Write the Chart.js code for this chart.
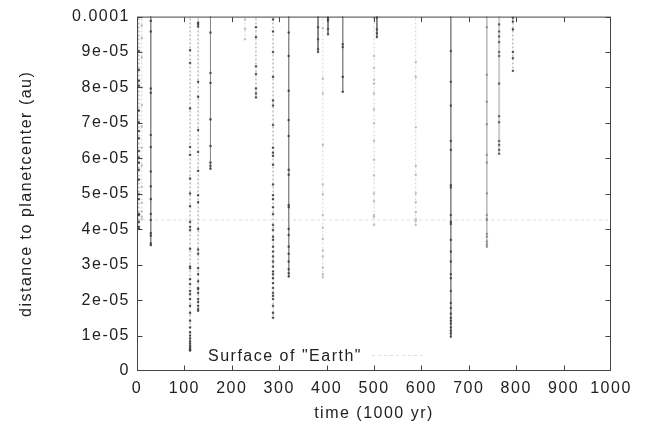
<!DOCTYPE html>
<html>
<head>
<meta charset="utf-8">
<script src="https://cdn.jsdelivr.net/npm/chart.js@4/dist/chart.umd.min.js"></script>
<style>
  html, body { margin: 0; padding: 0; background: #fff; }
</style>
</head>
<body>
<canvas id="encChart" width="648" height="434"></canvas>
<script>
// close passes: time of each pass (1000 yr) and the sampled distances (1e-6 au)
const passTimes = [4, 10, 29, 112, 129, 155, 228, 251, 287, 320, 382, 392, 403, 434, 500, 506, 588, 662, 738, 764, 793];

const passDistances = [
  [104, 90.3, 85, 81.9, 80.5, 73.5, 70.2, 67.7, 65.7, 62.1, 60.2, 58.8, 56.8, 54, 49.9, 48.5, 44.3, 44.0, 42.1, 40.7, 40.1],
  [104, 97.5, 94, 88.5, 80, 75, 69, 63, 58, 52, 47.5, 45, 43.5, 42.8],
  [104, 98.8, 95.8, 79.7, 78.5, 66.6, 63.2, 56.3, 52.1, 48.5, 44.3, 42.6, 38.9, 38.2, 36.0, 35.5],
  [104, 90.5, 86.9, 74.1, 63.2, 61, 54.3, 50.1, 46.5, 42.1, 40.7, 39.8, 34.5, 29.5, 29, 25.9, 24.5, 22.6, 21.7, 20.3, 18.4, 16.4, 14.2, 12.3, 10.9, 10, 9.2, 8.4, 7.8, 7.2, 6.7, 6.2, 5.9, 5.8],
  [104, 98.3, 97.8, 97.2, 81.6, 77.4, 68, 61.8, 56.5, 49.6, 47.6, 40.1, 34.3, 33.1, 29, 27.3, 25.3, 23.4, 23.1, 22, 20.3, 19.5, 18.4, 17.5, 17],
  [104, 95.5, 84.1, 81.3, 71, 63.5, 58.8, 57.9, 57.1],
  [104, 99.2, 96.5, 93.6],
  [104, 97, 94.2, 86, 83.8, 79.7, 78.3, 77.2],
  [104, 99.2, 95.8, 90, 83, 76.3, 74.9, 69.4, 63, 61.6, 60.7, 58.2, 52.6, 49.6, 48.5, 46.2, 44.3, 41.2, 39.8, 37.9, 37, 35.1, 33.7, 32.3, 30.9, 29.5, 28.1, 27.3, 26.2, 24.8, 23.4, 22, 21.2, 20.3, 18.4, 16.4, 15],
  [104, 95.5, 88.9, 79.1, 70.8, 66.3, 56.8, 55.4, 46.8, 46.2, 40.1, 38.4, 35.1, 33.1, 30.9, 28.7, 27.6, 26.7],
  [104, 97, 93.6, 90.8, 90],
  [104, 96.7, 82.5, 78.3, 63.8, 52.6, 49.9, 44, 40.4, 37.3, 34, 32.3, 29.2, 27.3, 26.5],
  [104, 99.4, 98.9, 96.5, 95],
  [104, 92.2, 91.4, 83, 78.8],
  [104, 99.7, 88.9, 85.5, 82.2, 81.1, 78.3, 73.8, 69.9, 64.9, 59.6, 55.2, 50.1, 47.9, 44, 43.5, 41.2],
  [104, 99.7, 96.4, 95.3, 94.2],
  [104, 87.2, 83, 68.8, 57.9, 55.4, 50.1, 47.6, 44.8, 42.9, 42.3, 41.2],
  [104, 90.3, 81.6, 74.9, 64.9, 62.4, 52.4, 51.8, 44, 42.1, 41.5, 37, 33.7, 30.9, 27.3, 26.2, 22.6, 19.2, 17.8, 16.2, 15, 14.2, 13.4, 12.3, 11.4, 10.6, 9.7],
  [104, 97, 83.6, 76, 69.6, 61, 58.8, 50.1, 44, 42.9, 42.6, 38.7, 37.9, 36.5, 35.7, 35.1],
  [104, 97.8, 95.8, 94.4, 92.8, 90, 88.9, 81.1, 71.9, 70.2, 64.9, 63.8, 62.4, 61.3],
  [104, 99.7, 98.6, 96.4, 90, 88.3, 84.7]
];

// radius of the Earth in the same units
const earthRadius = 42.6;

const xTickLabels = ['0', '100', '200', '300', '400', '500', '600', '700', '800', '900', '1000'];
const yTickLabels = ['0', '1e-05', '2e-05', '3e-05', '4e-05', '5e-05', '6e-05', '7e-05', '8e-05', '9e-05', '0.0001'];

// which gnuplot-ish line type each pass was drawn with
const passLook = ['dotted', 'light', 'solid', 'dotted', 'dotted', 'solid', 'light', 'dotted', 'dotted', 'solid',
  'dark', 'light', 'dark', 'solid', 'light', 'dark', 'light', 'solid', 'pale', 'wide', 'dotted'];

const looks = {
  solid:  { line: '#8a8a8a', dash: [],     mark: '#404040', width: 1 },
  dotted: { line: '#9a9a9a', dash: [2, 2], mark: '#3a3a3a', width: 1 },
  dark:   { line: '#777777', dash: [],     mark: '#484848', width: 1 },
  light:  { line: '#d4d4d4', dash: [2, 2], mark: '#b8b8b8', width: 1 },
  pale:   { line: '#bcbcbc', dash: [],     mark: '#8c8c8c', width: 1 },
  wide:   { line: '#cdcdcd', dash: [],     mark: '#555555', width: 2 }
};

const AU = 1e-6;
const textSpacing = '1.5px';

const datasets = passTimes.map((t, i) => {
  const lk = looks[passLook[i]];
  return {
    label: 'pass ' + t,
    data: passDistances[i].map(d => ({ x: t, y: d * AU })),
    showLine: true,
    borderColor: lk.line,
    borderWidth: lk.width,
    borderDash: lk.dash,
    pointStyle: 'rect',
    pointRadius: 1.1,
    pointBorderWidth: 0.5,
    pointBackgroundColor: lk.mark,
    pointBorderColor: lk.mark,
    clip: 0
  };
});

datasets.push({
  label: 'Surface of "Earth"',
  data: [{ x: 0, y: earthRadius * AU }, { x: 1000, y: earthRadius * AU }],
  showLine: true,
  borderColor: '#dddddd',
  borderWidth: 1,
  borderDash: [3, 3],
  pointRadius: 0,
  clip: 0
});

// gnuplot puts a wide spacing between letters
const spacingPlugin = {
  id: 'spacing',
  beforeUpdate(chart) { chart.ctx.letterSpacing = textSpacing; },
  beforeDraw(chart) { chart.ctx.letterSpacing = textSpacing; }
};

// box around the plot, inward ticks on all four sides, and the key
const framePlugin = {
  id: 'frame',
  afterDraw(chart) {
    const { ctx, chartArea: a, scales: { x, y } } = chart;
    const l = a.left + 0.5, r = a.right - 0.5, tp = a.top + 0.5, b = a.bottom - 0.5;
    ctx.save();
    ctx.strokeStyle = '#444';
    ctx.lineWidth = 1;
    ctx.setLineDash([]);
    ctx.strokeRect(l, tp, r - l, b - tp);
    ctx.beginPath();
    x.ticks.forEach(tk => {
      const px = Math.min(r, Math.max(l, Math.round(x.getPixelForValue(tk.value)) + 0.5));
      if (px === l || px === r) return;
      ctx.moveTo(px, b); ctx.lineTo(px, b - 5);
      ctx.moveTo(px, tp); ctx.lineTo(px, tp + 5);
    });
    y.ticks.forEach(tk => {
      const py = Math.min(b, Math.max(tp, Math.round(y.getPixelForValue(tk.value)) + 0.5));
      if (py === tp || py === b) return;
      ctx.moveTo(l, py); ctx.lineTo(l + 5, py);
      ctx.moveTo(r, py); ctx.lineTo(r - 5, py);
    });
    ctx.stroke();

    // key
    const keyY = a.bottom - 15.5;
    ctx.letterSpacing = textSpacing;
    ctx.font = '16px "Liberation Sans", Arial, sans-serif';
    ctx.fillStyle = '#222';
    ctx.textAlign = 'right';
    ctx.textBaseline = 'middle';
    ctx.fillText('Surface of "Earth"', a.left + 225, keyY + 1);
    ctx.strokeStyle = '#dddddd';
    ctx.setLineDash([3, 3]);
    ctx.beginPath();
    ctx.moveTo(a.left + 235, keyY);
    ctx.lineTo(a.left + 286, keyY);
    ctx.stroke();
    ctx.restore();
  }
};

Chart.defaults.font.family = '"Liberation Sans", Arial, sans-serif';
Chart.defaults.font.size = 16;
Chart.defaults.color = '#222';

new Chart(document.getElementById('encChart'), {
  type: 'scatter',
  data: { datasets },
  options: {
    responsive: false,
    animation: false,
    devicePixelRatio: 1,
    layout: { padding: { top: 12, right: 37, bottom: 0, left: 0 } },
    plugins: {
      legend: { display: false },
      tooltip: { enabled: false }
    },
    scales: {
      x: {
        type: 'linear',
        min: 0,
        max: 1000,
        grid: { display: false, drawTicks: false },
        border: { display: false },
        ticks: {
          stepSize: 100,
          padding: 8,
          maxRotation: 0,
          autoSkip: false,
          callback: (v, i) => xTickLabels[i]
        },
        title: { display: true, text: 'time (1000 yr)', padding: { top: 0, bottom: 11 } },
        afterFit: s => { s.height = 63; }
      },
      y: {
        type: 'linear',
        min: 0,
        max: 0.0001,
        grid: { display: false, drawTicks: false },
        border: { display: false },
        ticks: {
          stepSize: 0.00001,
          padding: 7,
          autoSkip: false,
          callback: (v, i) => yTickLabels[i]
        },
        title: { display: true, text: 'distance to planetcenter (au)', padding: { top: 17, bottom: 0 } },
        afterFit: s => { s.width = 137; }
      }
    }
  },
  plugins: [spacingPlugin, framePlugin]
});
</script>
</body>
</html>
